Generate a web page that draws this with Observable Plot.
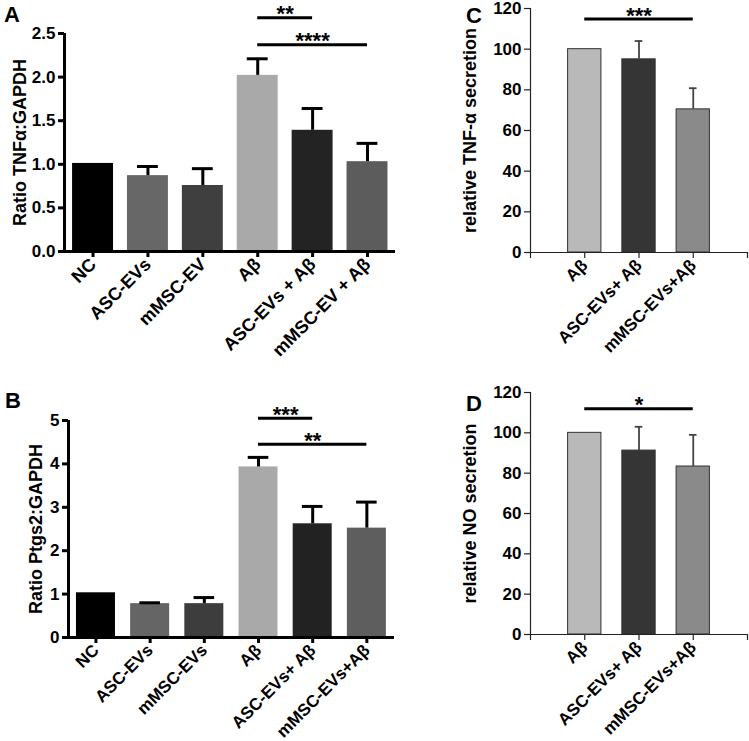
<!DOCTYPE html>
<html><head><meta charset="utf-8">
<script src="https://cdn.jsdelivr.net/npm/d3@7"></script>
<script src="https://cdn.jsdelivr.net/npm/@observablehq/plot@0.6"></script>
<style>
body{margin:0;background:#fff;}
#root{position:relative;width:749px;height:741px;overflow:hidden;background:#fff;font-family:"Liberation Sans",Arial,sans-serif;}
.panel{position:absolute;}
.letter{position:absolute;font-family:"Liberation Sans",Arial,sans-serif;font-weight:bold;font-size:22px;line-height:1;color:#000;}
</style></head><body><div id="root"></div>
<script>
// ---------- Panel A ----------
const catsA = ["NC", "ASC-EVs", "mMSC-EV", "Aβ", "ASC-EVs + Aβ", "mMSC-EV + Aβ"];
const valuesA = [1.01, 0.87, 0.757, 2.02, 1.39, 1.03];
const errTopA = [null, 0.975, 0.95, 2.21, 1.64, 1.24];
const colorsA = ["#000000", "#676767", "#3f3f3f", "#a9a9a9", "#232323", "#5c5c5c"];
const yTicksA = [0, 0.5, 1.0, 1.5, 2.0, 2.5];
const sigA = [{from: 3, to: 4, level: 2.68, label: "**"}, {from: 3, to: 5, level: 2.37, label: "****"}];

// ---------- Panel B ----------
const catsB = ["NC", "ASC-EVs", "mMSC-EVs", "Aβ", "ASC-EVs+ Aβ", "mMSC-EVs+Aβ"];
const valuesB = [1.03, 0.78, 0.78, 3.93, 2.62, 2.52];
const errTopB = [null, 0.80, 0.92, 4.15, 3.02, 3.12];
const colorsB = ["#000000", "#656565", "#3d3d3d", "#a9a9a9", "#222222", "#5e5e5e"];
const yTicksB = [0, 1, 2, 3, 4, 5];
const sigB = [{from: 3, to: 4, level: 5.05, label: "***"}, {from: 3, to: 5, level: 4.45, label: "**"}];

// ---------- Panel C ----------
const catsC = ["Aβ", "ASC-EVs+ Aβ", "mMSC-EVs+Aβ"];
const valuesC = [100, 95, 70.4];
const errTopC = [null, 104, 80.8];
const colorsC = ["#b9b9b9", "#353535", "#8a8a8a"];
const yTicksC = [0, 20, 40, 60, 80, 100, 120];
const sigC = [{from: 0, to: 2, level: 114.8, label: "***"}];

// ---------- Panel D ----------
const catsD = ["Aβ", "ASC-EVs+ Aβ", "mMSC-EVs+Aβ"];
const valuesD = [100, 91.2, 83.3];
const errTopD = [null, 103, 99];
const colorsD = ["#b9b9b9", "#353535", "#8a8a8a"];
const yTicksD = [0, 20, 40, 60, 80, 100, 120];
const sigD = [{from: 0, to: 2, level: 112, label: "*"}];

const FONT = '"Liberation Sans", Arial, sans-serif';

function panel(cfg) {
  const data = cfg.cats.map((c, i) => ({i, c, v: cfg.values[i], e: cfg.errTop[i], col: cfg.colors[i]}));
  const errs = data.filter(d => d.e != null);
  const heavy = cfg.heavy;
  const axisW = heavy ? 3 : 1.2;
  const axisC = heavy ? "#000" : "#222";
  const errC = heavy ? "#000" : "#444";
  const errW = heavy ? 3 : 1.8;
  const xTicks = cfg.endTicks ? d3.range(cfg.xDomain[0], cfg.xDomain[1] + 1) : data.map(d => d.i);
  return Plot.plot({
    width: cfg.width, height: cfg.height,
    marginLeft: cfg.m[0], marginRight: cfg.m[1], marginTop: cfg.m[2], marginBottom: cfg.m[3],
    x: {type: "linear", domain: cfg.xDomain},
    y: {domain: cfg.yDomain},
    color: {type: "identity"},
    style: {fontFamily: FONT, fontWeight: "bold", fontSize: cfg.tickFont + "px", color: "#000", background: "transparent", overflow: "visible"},
    marks: [
      Plot.rectY(data, {x1: d => d.i - cfg.halfBar, x2: d => d.i + cfg.halfBar, y: "v", fill: "col",
        stroke: heavy ? null : "#333", strokeWidth: heavy ? 0 : 1}),
      Plot.ruleX(errs, {x: "i", y1: "v", y2: "e", stroke: errC, strokeWidth: errW}),
      Plot.ruleY(errs, {y: "e", x1: d => d.i - cfg.halfCap, x2: d => d.i + cfg.halfCap, stroke: errC, strokeWidth: errW}),
      Plot.ruleY([cfg.yDomain[0]], {stroke: axisC, strokeWidth: axisW}),
      Plot.ruleX([cfg.xDomain[0]], {stroke: axisC, strokeWidth: axisW}),
      Plot.axisY({ticks: cfg.yTicks, tickFormat: cfg.yFormat, tickSize: 6, tickPadding: 3, stroke: axisC, strokeWidth: axisW, label: null, fontSize: cfg.tickFont, fontWeight: "bold", fontFamily: FONT}),
      Plot.axisX({ticks: xTicks, tickFormat: i => cfg.cats[i] ?? "", tickRotate: -45, tickSize: 6, tickPadding: 4, stroke: axisC, strokeWidth: axisW, label: null, fontSize: cfg.xFont, fontWeight: "bold", fontFamily: FONT}),
      Plot.text([cfg.label], {frameAnchor: "left", rotate: -90, dx: -cfg.labelOffset, lineAnchor: "top", textAnchor: "middle", fontSize: cfg.labelFont, fontWeight: "bold", fontFamily: FONT}),
      Plot.ruleY(cfg.sig, {y: "level", x1: "from", x2: "to", stroke: "#000", strokeWidth: 3}),
      Plot.text(cfg.sig, {x: d => (d.from + d.to) / 2, y: "level", text: "label", lineAnchor: "bottom", dy: 3.5, fontSize: 22, fontWeight: "bold", fontFamily: FONT})
    ]
  });
}

const root = document.getElementById("root");
function place(el, left, top) {
  const wrap = document.createElement("div");
  wrap.className = "panel";
  wrap.style.left = left + "px";
  wrap.style.top = top + "px";
  wrap.appendChild(el);
  root.appendChild(wrap);
}
function letter(t, left, top) {
  const d = document.createElement("div");
  d.className = "letter";
  d.textContent = t;
  d.style.left = left + "px";
  d.style.top = top + "px";
  root.appendChild(d);
}

place(panel({cats: catsA, values: valuesA, errTop: errTopA, colors: colorsA, yTicks: yTicksA, yDomain: [0, 2.5],
  yFormat: d3.format(".1f"), xDomain: [-0.52, 5.51], halfBar: 0.373, halfCap: 0.19, sig: sigA, heavy: true,
  width: 400, height: 370, m: [64, 5, 33, 119], label: "Ratio TNFα:GAPDH", labelOffset: 51,
  tickFont: 17, xFont: 18, labelFont: 18}), 0, 0);

place(panel({cats: catsB, values: valuesB, errTop: errTopB, colors: colorsB, yTicks: yTicksB, yDomain: [0, 5],
  yFormat: d3.format("d"), xDomain: [-0.507, 5.51], halfBar: 0.36, halfCap: 0.19, sig: sigB, heavy: true,
  width: 400, height: 371, m: [68, 6, 50, 104], label: "Ratio Ptgs2:GAPDH", labelOffset: 39,
  tickFont: 17, xFont: 17, labelFont: 18}), 0, 370);

place(panel({cats: catsC, values: valuesC, errTop: errTopC, colors: colorsC, yTicks: yTicksC, yDomain: [0, 120],
  yFormat: d3.format("d"), xDomain: [-1, 3], halfBar: 0.307, halfCap: 0.07, sig: sigC, heavy: false, endTicks: true,
  width: 289, height: 370, m: [70, 2, 8, 118], label: "relative TNF-α secretion", labelOffset: 67,
  tickFont: 17, xFont: 17, labelFont: 18}), 460, 0);

place(panel({cats: catsD, values: valuesD, errTop: errTopD, colors: colorsD, yTicks: yTicksD, yDomain: [0, 120],
  yFormat: d3.format("d"), xDomain: [-1, 3], halfBar: 0.307, halfCap: 0.07, sig: sigD, heavy: false, endTicks: true,
  width: 289, height: 371, m: [70, 2, 22, 107], label: "relative NO secretion", labelOffset: 67,
  tickFont: 17, xFont: 17, labelFont: 18}), 460, 370);

letter("A", 4, 4);
letter("B", 5, 390);
letter("C", 466, 5);
letter("D", 466, 393);
</script></body></html>
